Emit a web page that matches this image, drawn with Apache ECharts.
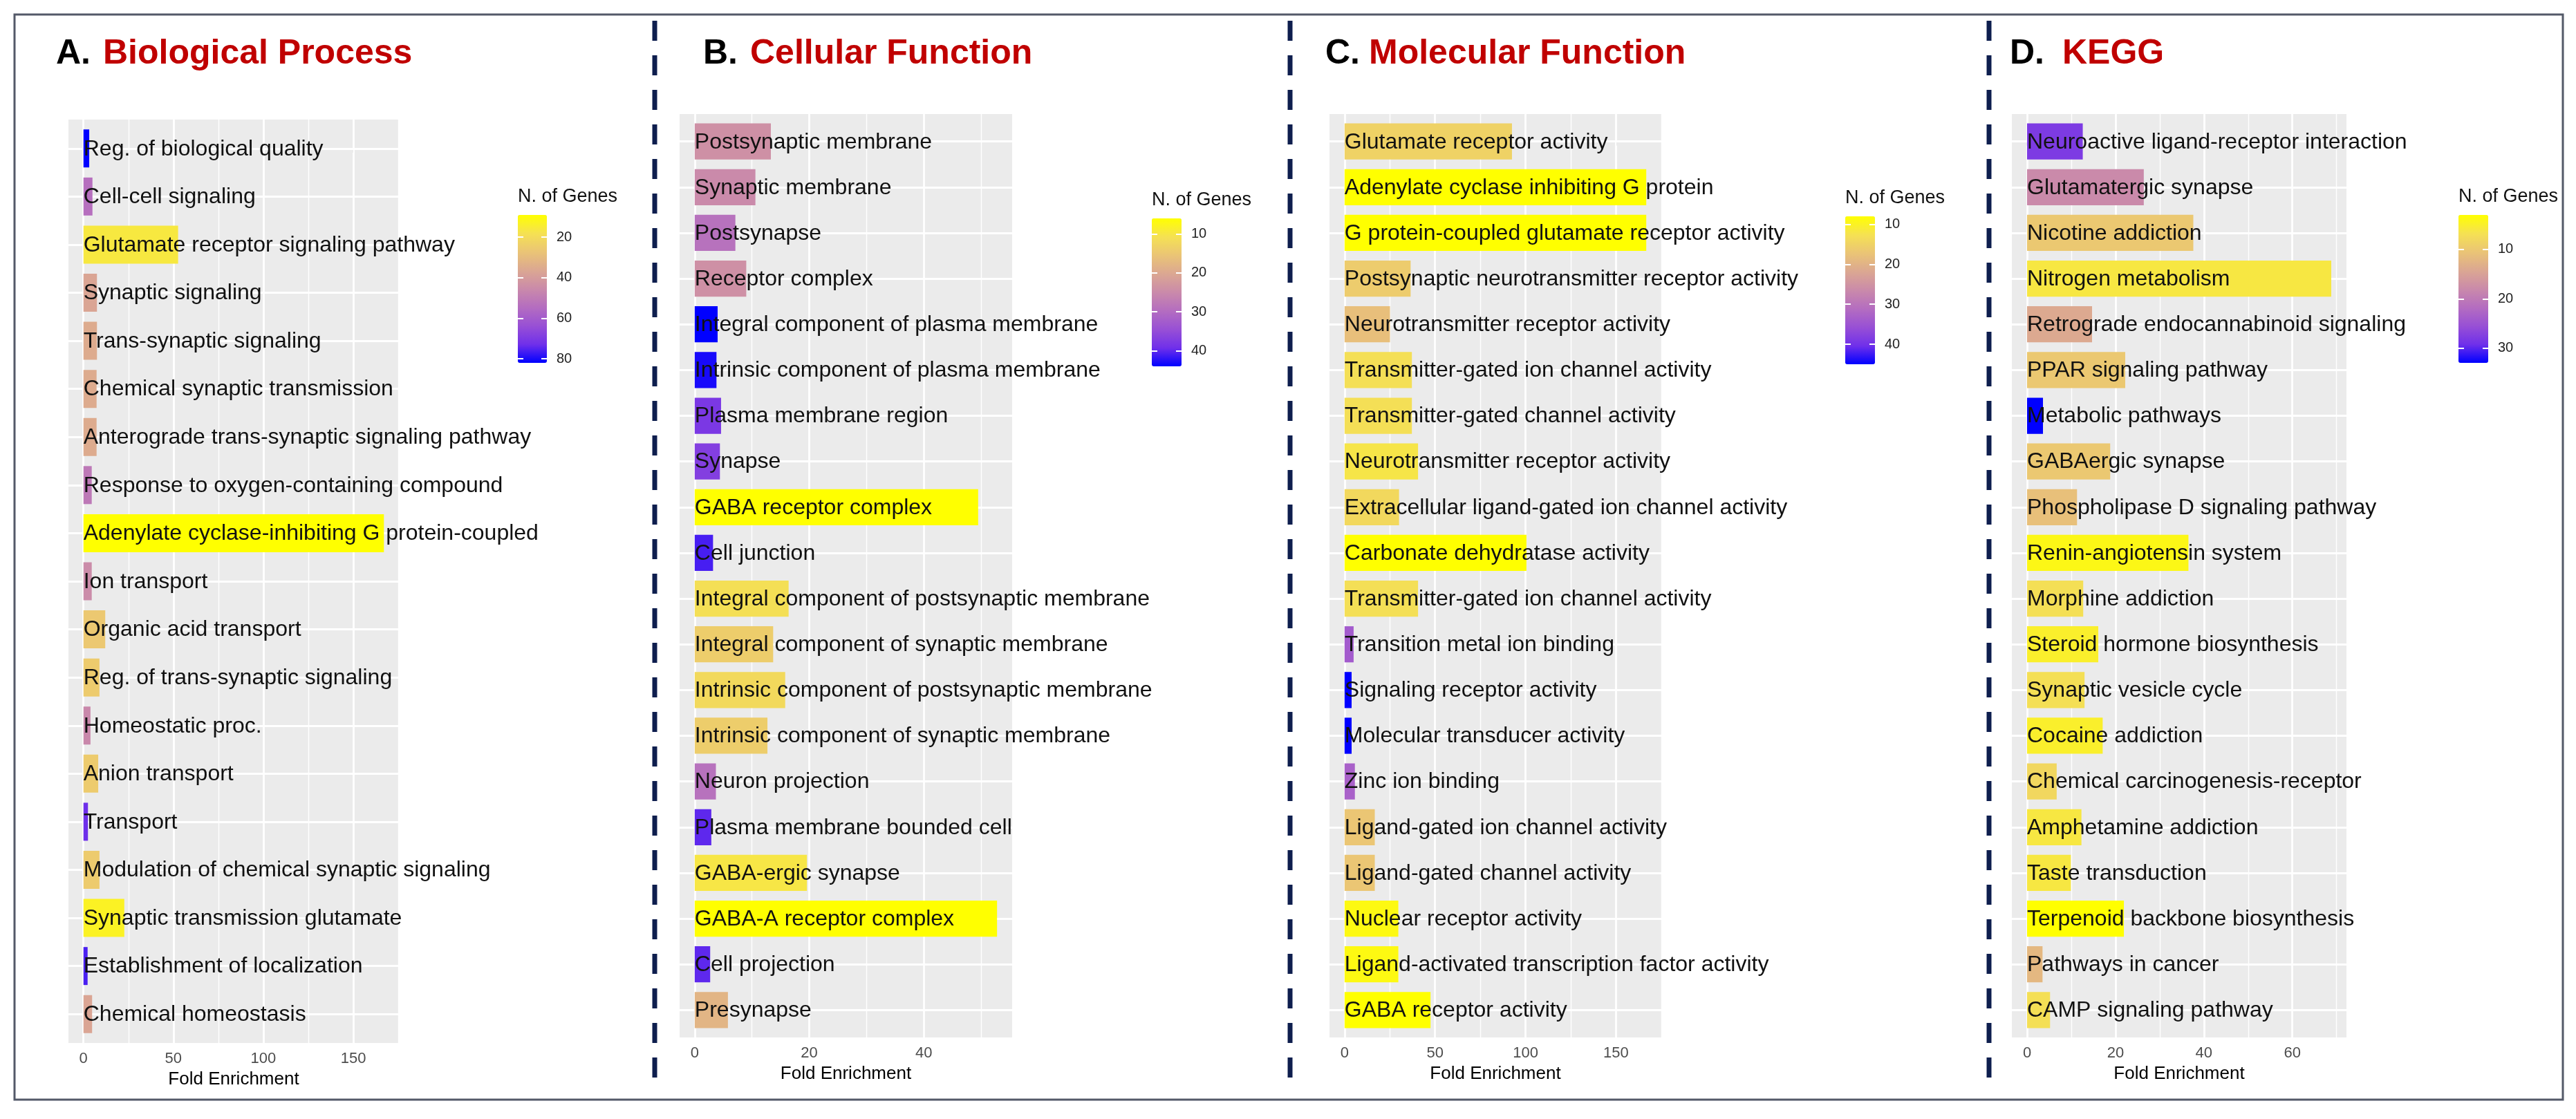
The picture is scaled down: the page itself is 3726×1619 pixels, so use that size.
<!DOCTYPE html>
<html>
<head>
<meta charset="utf-8">
<title>GO / KEGG enrichment</title>
<script src="https://cdn.jsdelivr.net/npm/echarts@6.0.0/dist/echarts.min.js"></script>
<style>
html, body { margin: 0; padding: 0; background: #ffffff; }
#chart { width: 3726px; height: 1619px; }
</style>
</head>
<body>
<div id="chart"></div>
<script>
// ---------------- data ----------------
const bpTerms = [
  "Reg. of biological quality", "Cell-cell signaling", "Glutamate receptor signaling pathway",
  "Synaptic signaling", "Trans-synaptic signaling", "Chemical synaptic transmission",
  "Anterograde trans-synaptic signaling pathway", "Response to oxygen-containing compound",
  "Adenylate cyclase-inhibiting G protein-coupled", "Ion transport", "Organic acid transport",
  "Reg. of trans-synaptic signaling", "Homeostatic proc.", "Anion transport", "Transport",
  "Modulation of chemical synaptic signaling", "Synaptic transmission glutamate",
  "Establishment of localization", "Chemical homeostasis"
];
const bpFold  = [3.2, 5.0, 52.6, 7.5, 7.5, 7.3, 7.3, 4.6, 167, 4.6, 12.1, 8.9, 3.9, 8.2, 2.5, 8.9, 22.7, 2.3, 4.8];
const bpGenes = [82, 54, 16, 37, 35, 35, 35, 51, 9, 45, 26, 25, 46, 25, 73, 25, 13, 76, 37];
const bpTicks = [0, 50, 100, 150];
const bpLegendTicks = [20, 40, 60, 80];

const ccTerms = [
  "Postsynaptic membrane", "Synaptic membrane", "Postsynapse", "Receptor complex",
  "Integral component of plasma membrane", "Intrinsic component of plasma membrane",
  "Plasma membrane region", "Synapse", "GABA receptor complex", "Cell junction",
  "Integral component of postsynaptic membrane", "Integral component of synaptic membrane",
  "Intrinsic component of postsynaptic membrane", "Intrinsic component of synaptic membrane",
  "Neuron projection", "Plasma membrane bounded cell", "GABA-ergic synapse",
  "GABA-A receptor complex", "Cell projection", "Presynapse"
];
const ccFold  = [13.3, 10.6, 7.1, 9.0, 4.0, 3.8, 4.6, 4.4, 49.5, 3.2, 16.4, 13.7, 15.8, 12.7, 3.7, 2.9, 19.6, 52.8, 2.7, 5.8];
const ccGenes = [24, 25, 29, 24, 44, 43, 38, 37, 6, 41, 11, 14, 12, 14, 29, 40, 10, 6, 40, 18];
const ccTicks = [0, 20, 40];
const ccLegendTicks = [10, 20, 30, 40];

const mfTerms = [
  "Glutamate receptor activity", "Adenylate cyclase inhibiting G protein",
  "G protein-coupled glutamate receptor activity", "Postsynaptic neurotransmitter receptor activity",
  "Neurotransmitter receptor activity", "Transmitter-gated ion channel activity",
  "Transmitter-gated channel activity", "Neurotransmitter receptor activity",
  "Extracellular ligand-gated ion channel activity", "Carbonate dehydratase activity",
  "Transmitter-gated ion channel activity", "Transition metal ion binding",
  "Signaling receptor activity", "Molecular transducer activity", "Zinc ion binding",
  "Ligand-gated ion channel activity", "Ligand-gated channel activity", "Nuclear receptor activity",
  "Ligand-activated transcription factor activity", "GABA receptor activity"
];
const mfFold  = [92.5, 166.7, 166.7, 36.5, 25.1, 37.2, 37.2, 40.6, 30.1, 100.5, 40.6, 5.0, 3.9, 3.9, 5.7, 16.7, 16.7, 29.7, 29.7, 47.5];
const mfGenes = [15, 8, 8, 16, 18, 13, 13, 12, 14, 8, 13, 34, 45, 45, 33, 17, 17, 9, 9, 8];
const mfTicks = [0, 50, 100, 150];
const mfLegendTicks = [10, 20, 30, 40];

const keggTerms = [
  "Neuroactive ligand-receptor interaction", "Glutamatergic synapse", "Nicotine addiction",
  "Nitrogen metabolism", "Retrograde endocannabinoid signaling", "PPAR signaling pathway",
  "Metabolic pathways", "GABAergic synapse", "Phospholipase D signaling pathway",
  "Renin-angiotensin system", "Morphine addiction", "Steroid hormone biosynthesis",
  "Synaptic vesicle cycle", "Cocaine addiction", "Chemical carcinogenesis-receptor",
  "Amphetamine addiction", "Taste transduction", "Terpenoid backbone biosynthesis",
  "Pathways in cancer", "CAMP signaling pathway"
];
const keggFold  = [12.6, 26.4, 37.6, 68.8, 14.7, 22.2, 3.6, 18.8, 11.3, 36.5, 12.7, 16.1, 13.0, 17.1, 6.7, 12.3, 9.9, 21.9, 3.5, 5.2];
const keggGenes = [28, 18, 10, 6, 14, 10, 33, 10, 11, 4, 7, 5, 7, 5, 8, 6, 6, 3, 12, 7];
const keggTicks = [0, 20, 40, 60];
const keggLegendTicks = [10, 20, 30];

const panelLetters = ["A.", "B.", "C.", "D."];
const panelNames = ["Biological Process", "Cellular Function", "Molecular Function", "KEGG"];
const xAxisTitle = "Fold Enrichment";
const legendTitle = "N. of Genes";

// ---------------- layout & style ----------------
const FONT = '"Liberation Sans", Arial, Helvetica, sans-serif';
const GRADIENT = ['#FFFF00', '#F5E153', '#EAC476', '#DBA792', '#CA8AAA', '#B46DC0', '#9850D5', '#7030EA', '#0000FF'];
const BAR_FRACTION = 0.79;

const layouts = [
  { grid: { left: 99,   top: 173, width: 478, height: 1336 }, letterX: 81,   nameX: 149,  legend: { left: 749,  top: 311, width: 42, height: 214 } },
  { grid: { left: 983,  top: 165, width: 481, height: 1336 }, letterX: 1017, nameX: 1085, legend: { left: 1666, top: 316, width: 43, height: 214 } },
  { grid: { left: 1923, top: 165, width: 480, height: 1336 }, letterX: 1917, nameX: 1980, legend: { left: 2669, top: 313, width: 43, height: 214 } },
  { grid: { left: 2910, top: 165, width: 484, height: 1336 }, letterX: 2907, nameX: 2983, legend: { left: 3556, top: 311, width: 43, height: 214 } }
];
const TITLE_Y = 78;
const separatorsX = [947, 1866, 2877];

const panels = [
  { terms: bpTerms,   fold: bpFold,   genes: bpGenes,   ticks: bpTicks,   legendTicks: bpLegendTicks },
  { terms: ccTerms,   fold: ccFold,   genes: ccGenes,   ticks: ccTicks,   legendTicks: ccLegendTicks },
  { terms: mfTerms,   fold: mfFold,   genes: mfGenes,   ticks: mfTicks,   legendTicks: mfLegendTicks },
  { terms: keggTerms, fold: keggFold, genes: keggGenes, ticks: keggTicks, legendTicks: keggLegendTicks }
];

function makeRenderer(terms) {
  return function (params, api) {
    const row = api.value(1);
    const v = api.value(0);
    const p0 = api.coord([0, row]);
    const p1 = api.coord([v, row]);
    const h = api.size([0, 1])[1] * BAR_FRACTION;
    return {
      type: 'group',
      children: [
        { type: 'rect', shape: { x: p0[0], y: p0[1] - h / 2, width: p1[0] - p0[0], height: h },
          style: { fill: api.visual('color') } },
        { type: 'text', x: p0[0], y: p0[1] + 1,
          style: { text: terms[row], fill: '#111111', font: '32px ' + FONT, align: 'left', verticalAlign: 'middle' } }
      ]
    };
  };
}

const grid = [], xAxis = [], yAxis = [], series = [], visualMap = [], graphic = [];

panels.forEach((p, k) => {
  const L = layouts[k];
  const dMax = Math.max(...p.fold);
  const xmin = -0.05 * dMax, xmax = 1.05 * dMax;
  const n = p.terms.length;
  const step = p.ticks[1] - p.ticks[0];
  const minors = [];
  for (let v = p.ticks[0] - step / 2; v <= xmax; v += step) { if (v >= xmin) minors.push(v); }

  grid.push(Object.assign({ show: true, backgroundColor: '#EBEBEB', borderWidth: 0 }, L.grid));
  xAxis.push({
    type: 'value', gridIndex: k, min: xmin, max: xmax,
    axisLine: { show: false },
    axisTick: { show: true, customValues: p.ticks, length: 6, lineStyle: { color: '#333333', width: 2 } },
    axisLabel: { show: true, customValues: p.ticks, color: '#4D4D4D', fontSize: 22, fontFamily: FONT, margin: 12 },
    splitLine: { show: false },
    name: xAxisTitle, nameLocation: 'middle', nameGap: 40,
    nameTextStyle: { color: '#000000', fontSize: 26, fontFamily: FONT }
  });
  yAxis.push({
    type: 'value', gridIndex: k, inverse: true, min: -0.6, max: n - 0.4,
    axisLine: { show: false }, axisTick: { show: false }, axisLabel: { show: false }, splitLine: { show: false }
  });

  const lineData = [];
  p.ticks.forEach(v => lineData.push({ xAxis: v, lineStyle: { color: '#FFFFFF', width: 2.8, type: 'solid' } }));
  minors.forEach(v => lineData.push({ xAxis: v, lineStyle: { color: '#FFFFFF', width: 1.4, type: 'solid' } }));
  p.terms.forEach((t, i) => lineData.push({ yAxis: i, lineStyle: { color: '#FFFFFF', width: 2.8, type: 'solid' } }));

  series.push({
    type: 'line', xAxisIndex: k, yAxisIndex: k, data: [], z: 1, silent: true,
    markLine: { silent: true, z: 1, symbol: ['none', 'none'], label: { show: false }, animation: false, data: lineData }
  });
  series.push({
    type: 'custom', xAxisIndex: k, yAxisIndex: k, z: 3, silent: true,
    dimensions: ['fold', 'row', 'genes'], encode: { x: 0, y: 1 },
    data: p.fold.map((v, i) => [v, i, p.genes[i]]),
    renderItem: makeRenderer(p.terms)
  });

  const gMin = Math.min(...p.genes), gMax = Math.max(...p.genes);
  visualMap.push({
    type: 'continuous', seriesIndex: 2 * k + 1, dimension: 2, min: gMin, max: gMax,
    inRange: { color: GRADIENT }, orient: 'vertical', inverse: true,
    left: L.legend.left, top: L.legend.top, itemWidth: L.legend.width, itemHeight: L.legend.height,
    calculable: false, padding: 0, hoverLink: false, realtime: false, text: null, showLabel: false
  });
});

// colour-bar label axes
panels.forEach((p, k) => {
  const L = layouts[k];
  const gi = 4 + k;
  const gMin = Math.min(...p.genes), gMax = Math.max(...p.genes);
  grid.push({ show: false, left: L.legend.left, top: L.legend.top, width: L.legend.width, height: L.legend.height });
  xAxis.push({ type: 'value', gridIndex: gi, show: false, min: 0, max: 1 });
  const base = {
    type: 'value', gridIndex: gi, min: gMin, max: gMax, inverse: true, z: 10,
    axisLine: { show: false }, splitLine: { show: false },
    axisTick: { show: true, inside: true, length: 8, customValues: p.legendTicks, lineStyle: { color: '#FFFFFF', width: 2 } }
  };
  yAxis.push(Object.assign({}, base, { position: 'left', axisLabel: { show: false } }));
  yAxis.push(Object.assign({}, base, { position: 'right',
    axisLabel: { show: true, customValues: p.legendTicks, color: '#222222', fontSize: 20, fontFamily: FONT, margin: 14 } }));
  graphic.push({ type: 'text', x: L.legend.left, y: L.legend.top - 26, z: 20,
    style: { text: legendTitle, fill: '#111111', font: '27px ' + FONT, align: 'left', verticalAlign: 'middle' } });
  graphic.push({ type: 'text', x: L.letterX, y: TITLE_Y, z: 20,
    style: { text: panelLetters[k], fill: '#000000', font: 'bold 50px ' + FONT, align: 'left', verticalAlign: 'middle' } });
  graphic.push({ type: 'text', x: L.nameX, y: TITLE_Y, z: 20,
    style: { text: panelNames[k], fill: '#C00000', font: 'bold 50px ' + FONT, align: 'left', verticalAlign: 'middle' } });
});

graphic.push({ type: 'rect', z: 0, shape: { x: 21, y: 21, width: 3686, height: 1570 },
  style: { fill: 'none', stroke: '#535968', lineWidth: 3 } });
separatorsX.forEach(x => graphic.push({ type: 'line', z: 0, shape: { x1: x, y1: 30, x2: x, y2: 1580 },
  style: { stroke: '#0E1E4E', lineWidth: 7, lineDash: [29, 21] } }));

const chart = echarts.init(document.getElementById('chart'), null, { renderer: 'canvas' });
chart.setOption({
  backgroundColor: '#FFFFFF',
  animation: false,
  textStyle: { fontFamily: FONT },
  grid, xAxis, yAxis, series, visualMap, graphic
});
</script>
</body>
</html>
